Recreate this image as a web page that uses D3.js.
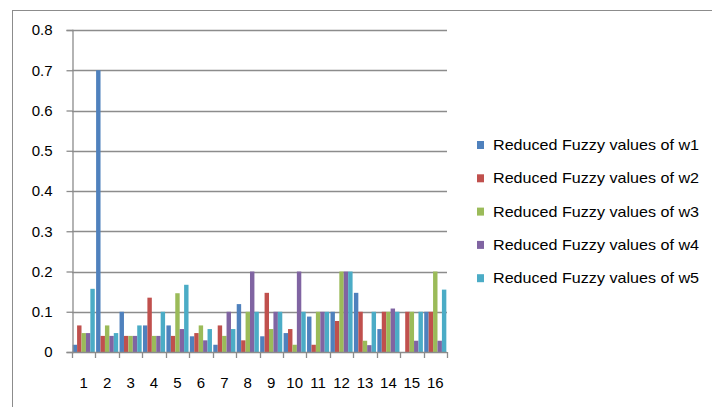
<!DOCTYPE html>
<html>
<head>
<meta charset="utf-8">
<script src="https://cdn.jsdelivr.net/npm/d3@7/dist/d3.min.js"></script>
<style>
  html, body { margin: 0; padding: 0; background: #fff; }
  svg { display: block; }
  text { font-family: "Liberation Sans", "DejaVu Sans", sans-serif; fill: #000; }
</style>
</head>
<body>
<svg id="chart" width="712" height="407"></svg>
<script>
// Category labels (1..16) and the five series of reduced fuzzy values
const categories = ["1","2","3","4","5","6","7","8","9","10","11","12","13","14","15","16"];
const w1 = [0.018, 0.7, 0.1, 0.066, 0.066, 0.039, 0.018, 0.119, 0.039, 0.047, 0.088, 0.1, 0.147, 0.057, 0, 0.1];
const w2 = [0.066, 0.04, 0.04, 0.135, 0.04, 0.047, 0.066, 0.029, 0.147, 0.057, 0.018, 0.077, 0.1, 0.1, 0.1, 0.1];
const w3 = [0.047, 0.066, 0.04, 0.04, 0.146, 0.066, 0.04, 0.1, 0.057, 0.018, 0.1, 0.2, 0.028, 0.1, 0.1, 0.2];
const w4 = [0.047, 0.04, 0.04, 0.04, 0.057, 0.029, 0.1, 0.2, 0.1, 0.2, 0.1, 0.2, 0.017, 0.108, 0.028, 0.028];
const w5 = [0.157, 0.047, 0.066, 0.1, 0.167, 0.057, 0.057, 0.1, 0.1, 0.1, 0.1, 0.2, 0.1, 0.1, 0.1, 0.155];
const seriesNames = [
  "Reduced Fuzzy values of w1",
  "Reduced Fuzzy values of w2",
  "Reduced Fuzzy values of w3",
  "Reduced Fuzzy values of w4",
  "Reduced Fuzzy values of w5"
];
const seriesColors = ["#4F81BD", "#C0504D", "#9BBB59", "#8064A2", "#4BACC6"];
const yTicks = [0, 0.1, 0.2, 0.3, 0.4, 0.5, 0.6, 0.7, 0.8];
const yTickLabels = ["0", "0.1", "0.2", "0.3", "0.4", "0.5", "0.6", "0.7", "0.8"];

const series = [w1, w2, w3, w4, w5];

const svg = d3.select("#chart");

// outer chart frame
svg.append("rect")
  .attr("x", 12.5).attr("y", 10.5)
  .attr("width", 760).attr("height", 460)
  .attr("fill", "none").attr("stroke", "#8c8c8c").attr("stroke-width", 1);

const plot = { left: 72, right: 447, top: 30, bottom: 352 };

const x = d3.scaleBand()
  .domain(categories)
  .range([plot.left, plot.right])
  .paddingInner(0).paddingOuter(0);

// gap between clusters is 150% of one bar width: 5 bars + 1.5 gap
const xInner = d3.scaleBand()
  .domain(d3.range(series.length))
  .range([0, x.bandwidth()])
  .paddingInner(0)
  .paddingOuter(0.15);

const y = d3.scaleLinear()
  .domain([0, 0.8])
  .range([plot.bottom, plot.top]);

// horizontal gridlines
svg.append("g")
  .selectAll("line")
  .data(yTicks.filter(d => d > 0))
  .join("line")
  .attr("x1", plot.left).attr("x2", plot.right)
  .attr("y1", d => Math.round(y(d)) + 0.5)
  .attr("y2", d => Math.round(y(d)) + 0.5)
  .attr("stroke", "#8c8c8c").attr("stroke-width", 1.3);

// bars
const groups = svg.append("g")
  .selectAll("g")
  .data(series)
  .join("g")
  .attr("fill", (d, i) => seriesColors[i]);

groups.each(function(vals, si) {
  d3.select(this).selectAll("rect")
    .data(vals)
    .join("rect")
    .attr("x", (v, ci) => x(categories[ci]) + xInner(si))
    .attr("width", xInner.bandwidth())
    .attr("y", v => y(v))
    .attr("height", v => y(0) - y(v));
});

// y axis
const yAxis = d3.axisLeft(y)
  .tickValues(yTicks)
  .tickFormat((d, i) => yTickLabels[i])
  .tickSize(6)
  .tickPadding(14);

const gy = svg.append("g")
  .attr("transform", `translate(${plot.left + 0.5},0)`)
  .call(yAxis);
gy.select(".domain").attr("stroke", "#8c8c8c").attr("stroke-width", 1.3);
gy.selectAll(".tick line").attr("stroke", "#8c8c8c").attr("stroke-width", 1.3);
gy.selectAll(".tick text").attr("font-size", 15).style("font-family", "Liberation Sans, sans-serif");

// x axis baseline and category boundary ticks
svg.append("line")
  .attr("x1", plot.left).attr("x2", plot.right)
  .attr("y1", plot.bottom + 0.5).attr("y2", plot.bottom + 0.5)
  .attr("stroke", "#8c8c8c").attr("stroke-width", 1.3);

const boundaries = categories.map(c => x(c)).concat([plot.right]);
svg.append("g")
  .selectAll("line")
  .data(boundaries)
  .join("line")
  .attr("x1", d => Math.round(d) + 0.5).attr("x2", d => Math.round(d) + 0.5)
  .attr("y1", plot.bottom).attr("y2", plot.bottom + 6)
  .attr("stroke", "#8c8c8c").attr("stroke-width", 1.3);

svg.append("g")
  .selectAll("text")
  .data(categories)
  .join("text")
  .attr("x", d => x(d) + x.bandwidth() / 2)
  .attr("y", 388)
  .attr("text-anchor", "middle")
  .attr("font-size", 15)
  .text(d => d);

// legend
const legend = svg.append("g")
  .selectAll("g")
  .data(seriesNames)
  .join("g")
  .attr("transform", (d, i) => `translate(477, ${145 + i * 33.3})`);

legend.append("rect")
  .attr("x", 0).attr("y", -4)
  .attr("width", 7).attr("height", 8)
  .attr("fill", (d, i) => seriesColors[i]);

legend.append("text")
  .attr("x", 16).attr("y", 5)
  .attr("font-size", 15)
  .attr("textLength", 206)
  .attr("lengthAdjust", "spacingAndGlyphs")
  .text(d => d);
</script>
</body>
</html>
